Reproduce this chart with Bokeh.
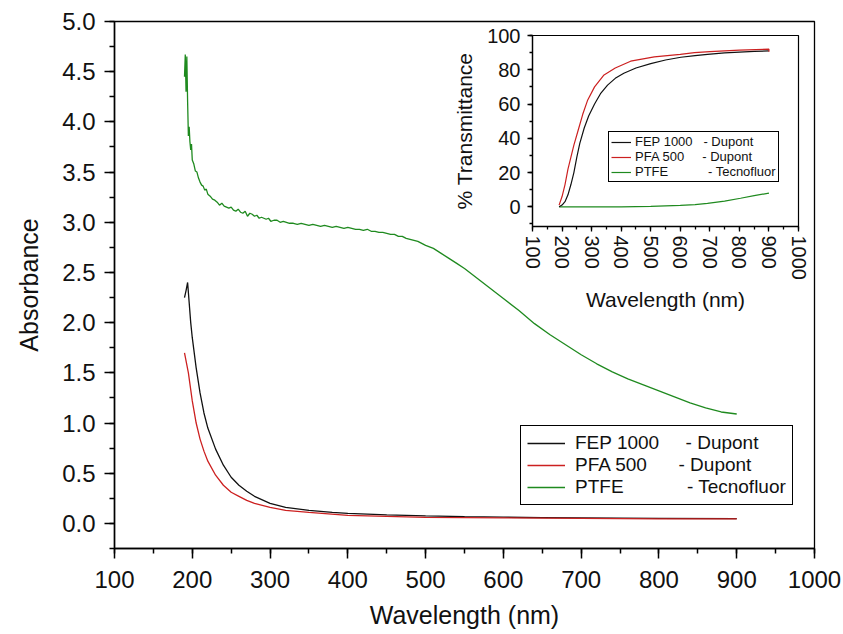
from bokeh.plotting import figure
from bokeh.models import Legend, LegendItem, SingleIntervalTicker, PrintfTickFormatter, Range1d
from bokeh.embed import file_html
from bokeh.resources import INLINE

FONT = "Liberation Sans"
NB = "\u00a0"

# ---------------- main chart data (Absorbance) ----------------
fep_wl = [190, 192, 194, 196, 198, 200, 205, 210, 215, 220, 230, 240, 250, 260, 270, 280,
          300, 320, 350, 380, 400, 450, 500, 550, 600, 650, 700, 800, 900]
fep_abs = [2.25, 2.32, 2.40, 2.20, 2.00, 1.85, 1.55, 1.30, 1.10, 0.95, 0.74, 0.58, 0.46, 0.38,
           0.32, 0.27, 0.20, 0.16, 0.13, 0.11, 0.10, 0.085, 0.075, 0.068, 0.062, 0.058, 0.055,
           0.05, 0.048]

pfa_wl = [190, 195, 200, 205, 210, 215, 220, 230, 240, 250, 260, 270, 280, 300, 320, 350,
          400, 450, 500, 600, 700, 800, 900]
pfa_abs = [1.70, 1.50, 1.22, 1.00, 0.84, 0.72, 0.62, 0.48, 0.38, 0.31, 0.27, 0.23, 0.20, 0.16,
           0.13, 0.11, 0.08, 0.07, 0.06, 0.055, 0.05, 0.045, 0.045]

ptfe_wl = [190, 191, 192, 193, 194, 195, 196, 197, 198, 199, 200, 202, 204, 206, 208, 210,
           212, 214, 216, 218, 220, 223, 226, 229, 232, 235, 238, 241, 244, 247, 250, 253,
           256, 259, 262, 265, 268, 271, 274, 277, 280, 283, 286, 289, 292, 295, 298, 301,
           305, 309, 313, 317, 321, 325, 330, 335, 340, 345, 350, 355, 360, 365, 370, 375,
           380, 385, 390, 395, 400, 405, 410, 415, 420, 425, 430, 435, 440, 445, 450, 455,
           460, 465, 470, 475, 480, 485, 490, 495, 500, 510, 520, 530, 540, 550, 560, 570,
           580, 590, 600, 620, 640, 660, 680, 700, 720, 740, 760, 780, 800, 820, 840, 860,
           880, 900]
ptfe_abs = [4.45, 4.67, 4.30, 4.65, 4.20, 3.86, 3.95, 3.80, 3.72, 3.78, 3.62, 3.58, 3.51, 3.50,
            3.44, 3.40, 3.37, 3.36, 3.32, 3.33, 3.28, 3.26, 3.23, 3.22, 3.20, 3.17, 3.19, 3.16,
            3.15, 3.14, 3.15, 3.12, 3.11, 3.13, 3.10, 3.09, 3.11, 3.06, 3.09, 3.08, 3.06, 3.07,
            3.04, 3.05, 3.04, 3.03, 3.04, 3.01, 3.02, 3.02, 3.00, 3.01, 3.00, 2.99, 2.99, 2.98,
            2.99, 2.98, 2.97, 2.98, 2.97, 2.96, 2.97, 2.96, 2.95, 2.96, 2.95, 2.94, 2.95, 2.94,
            2.93, 2.93, 2.92, 2.93, 2.91, 2.91, 2.90, 2.90, 2.89, 2.88, 2.88, 2.86, 2.86, 2.84,
            2.83, 2.82, 2.81, 2.79, 2.77, 2.74, 2.69, 2.64, 2.59, 2.54, 2.48, 2.42, 2.36, 2.30,
            2.24, 2.12, 1.99, 1.88, 1.78, 1.68, 1.59, 1.51, 1.44, 1.38, 1.32, 1.26, 1.20, 1.15,
            1.11, 1.09]

# ---------------- inset data (% Transmittance) ----------------
fep_t_wl = [190, 200, 210, 220, 230, 240, 250, 260, 275, 290, 310, 330, 354, 380, 409, 450,
            500, 550, 602, 650, 692, 750, 800, 850, 900]
fep_t = [0, 1, 3, 7, 13, 20, 29, 37, 46, 53, 60, 66, 71, 75, 78, 81, 83.6, 85.7, 87.3, 88.3,
         89, 89.8, 90.3, 90.7, 91]

pfa_t_wl = [190, 200, 210, 220, 230, 240, 255, 270, 286, 310, 342, 380, 432, 512, 600, 648,
            700, 800, 900, 900]
pfa_t = [1, 6, 13, 22, 29, 36, 45, 54, 62, 70, 77, 81, 85, 87.5, 89, 90, 90.6, 91.5, 92, 90.5]

ptfe_t_wl = [190, 300, 400, 500, 600, 650, 692, 750, 804, 850, 900]
ptfe_t = [0, 0, 0, 0.3, 0.8, 1.3, 2, 3.3, 5, 6.5, 8]

series_names = ["FEP 1000", "PFA 500", "PTFE"]
series_makers = ["- Dupont", "- Dupont", "- Tecnofluor"]
colors = ["#111111", "#cc2020", "#1f8a1f"]

main_gaps = [5, 6, 12]
inset_gaps = [3, 5, 11]


def style_axis(ax, tick_size, label_size, t_out, m_out, lw):
    ax.axis_line_color = "black"
    ax.axis_line_width = lw
    ax.major_tick_line_color = "black"
    ax.minor_tick_line_color = "black"
    ax.major_tick_line_width = lw
    ax.minor_tick_line_width = lw
    ax.major_tick_in = 0
    ax.minor_tick_in = 0
    ax.major_tick_out = t_out
    ax.minor_tick_out = m_out
    ax.major_label_text_font = FONT
    ax.major_label_text_font_size = tick_size
    ax.major_label_text_color = "#111111"
    ax.axis_label_text_font = FONT
    ax.axis_label_text_font_size = label_size
    ax.axis_label_text_font_style = "normal"
    ax.axis_label_text_color = "#111111"


# ---------------- main figure ----------------
p = figure(width=843, height=634, x_range=Range1d(100, 1000), y_range=Range1d(-0.25, 5.0),
           output_backend="svg", toolbar_location=None,
           min_border_left=114, min_border_right=29, min_border_top=21, min_border_bottom=86)
p.xgrid.visible = False
p.ygrid.visible = False
p.outline_line_color = "black"
p.outline_line_width = 1.3
p.outline_line_alpha = 1.0

style_axis(p.xaxis[0], "24px", "25px", 10, 5, 1.5)
style_axis(p.yaxis[0], "24px", "25px", 10, 5, 1.5)
p.xaxis.ticker = SingleIntervalTicker(interval=100, num_minor_ticks=2)
p.yaxis.ticker = SingleIntervalTicker(interval=0.5, num_minor_ticks=2)
p.yaxis.formatter = PrintfTickFormatter(format="%.1f")
p.xaxis.axis_label = "Wavelength (nm)"
p.yaxis.axis_label = "Absorbance"
p.xaxis.major_label_standoff = 12
p.xaxis.axis_label_standoff = 10
p.yaxis.major_label_standoff = 9
p.yaxis.axis_label_standoff = 16

r_ptfe = p.line(ptfe_wl, ptfe_abs, line_color=colors[2], line_width=1.3)
r_fep = p.line(fep_wl, fep_abs, line_color=colors[0], line_width=1.3)
r_pfa = p.line(pfa_wl, pfa_abs, line_color=colors[1], line_width=1.3)

main_items = []
for name, maker, gap, r in zip(series_names, series_makers, main_gaps, [r_fep, r_pfa, r_ptfe]):
    main_items.append(LegendItem(label=name + NB * gap + maker, renderers=[r]))
leg = Legend(items=main_items, location=(406, 43), orientation="vertical",
             label_text_font=FONT, label_text_font_size="19px", label_text_color="#111111",
             glyph_width=38, glyph_height=20, label_height=20, label_standoff=10,
             spacing=0, padding=6, margin=0,
             border_line_color="black", border_line_width=1.5, border_line_alpha=1.0,
             background_fill_color="white", background_fill_alpha=1.0)
p.add_layout(leg)

# ---------------- inset figure ----------------
q = figure(width=376, height=289, x_range=Range1d(100, 1000), y_range=Range1d(-11.5, 100),
           output_backend="svg", toolbar_location=None,
           min_border_left=94, min_border_right=16, min_border_top=11, min_border_bottom=84)
q.styles = {"position": "absolute", "left": "438px", "top": "24px"}
q.background_fill_alpha = 0
q.border_fill_alpha = 0
q.xgrid.visible = False
q.ygrid.visible = False
q.outline_line_color = "black"
q.outline_line_width = 1.2
q.outline_line_alpha = 1.0

style_axis(q.xaxis[0], "20px", "21px", 5, 3, 1.3)
style_axis(q.yaxis[0], "20px", "21px", 5, 3, 1.3)
q.xaxis.ticker = SingleIntervalTicker(interval=100, num_minor_ticks=2)
q.yaxis.ticker = SingleIntervalTicker(interval=20, num_minor_ticks=2)
q.xaxis.major_label_orientation = "vertical"
q.xaxis.axis_label = "Wavelength (nm)"
q.yaxis.axis_label = "% Transmittance"
q.xaxis.major_label_standoff = 4
q.xaxis.axis_label_standoff = 5
q.yaxis.major_label_standoff = 7
q.yaxis.axis_label_standoff = 8

s_ptfe = q.line(ptfe_t_wl, ptfe_t, line_color=colors[2], line_width=1.2)
s_fep = q.line(fep_t_wl, fep_t, line_color=colors[0], line_width=1.2)
s_pfa = q.line(pfa_t_wl, pfa_t, line_color=colors[1], line_width=1.2)

inset_items = []
for name, maker, gap, r in zip(series_names, series_makers, inset_gaps, [s_fep, s_pfa, s_ptfe]):
    inset_items.append(LegendItem(label=name + NB * gap + maker, renderers=[r]))
leg2 = Legend(items=inset_items, location=(76, 44), orientation="vertical",
              label_text_font=FONT, label_text_font_size="13px", label_text_color="#111111",
              glyph_width=20, glyph_height=12, label_height=12, label_standoff=4,
              spacing=0, padding=2, margin=0,
              border_line_color="black", border_line_width=1.5, border_line_alpha=1.0,
              background_fill_color="white", background_fill_alpha=1.0)
q.add_layout(leg2)

open("out.html", "w").write(file_html([p, q], INLINE))
